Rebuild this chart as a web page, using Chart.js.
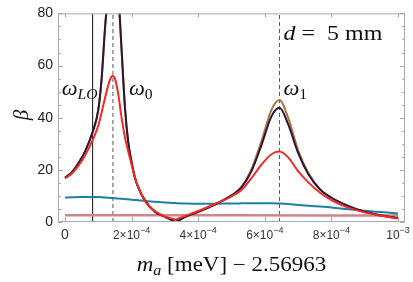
<!DOCTYPE html>
<html>
<head>
<meta charset="utf-8">
<script src="https://cdn.jsdelivr.net/npm/chart.js@4.4.1/dist/chart.umd.min.js"></script>
<style>
html,body{margin:0;padding:0;background:#fff;}
canvas{display:block;}
</style>
</head>
<body>
<canvas id="myChart" width="413" height="282"></canvas>
<script>

// m_a [meV] - 2.56963, in units of 1e-4
var xs = [0, 0.2, 0.4, 0.6, 0.83, 1.0, 1.1, 1.2, 1.3, 1.35, 1.42, 1.5, 1.6, 1.7, 1.8, 1.9, 2.0, 2.1, 2.2, 2.4, 2.7, 3.0, 3.27, 3.32, 3.37, 3.6, 4.0, 4.5, 5.0, 5.3, 5.6, 5.9, 6.2, 6.44, 6.7, 7.0, 7.3, 7.66, 8.0, 8.5, 9.0, 9.5, 10.0];

var purple = [17, 19, 22.5, 27, 34.5, 43, 55, 74, 90, 100, 106, 102, 88, 66, 44, 30.5, 23, 17, 13.3, 8.3, 3.9, 2.0, 0.35, 0.05, 0.3, 1.9, 3.9, 6.7, 10.2, 13.3, 19.5, 29.5, 40.5, 43.8, 37.5, 26.5, 18.5, 12.4, 9.3, 6.2, 3.9, 2.5, 1.5];
var brown  = [17, 19, 22.5, 27, 34.5, 43, 55, 74, 90, 100, 106, 102, 88, 66, 44, 30.5, 23, 17, 13.3, 8.3, 3.9, 2.0, 0.35, 0.05, 0.3, 1.9, 3.9, 6.7, 10.2, 13.5, 20.3, 31, 43, 46.8, 40, 27.5, 19, 12.6, 9.3, 6.2, 3.9, 2.5, 1.5];
var red    = [16.7, 18.5, 21.5, 25.5, 31.4, 37, 42, 47.5, 52.5, 54.5, 56, 55, 49, 40, 32.5, 27, 22, 17, 13.5, 8.0, 4.2, 2.1, 1.1, 1.0, 1.15, 2.3, 4.2, 6.9, 9.8, 12.3, 16.8, 22, 26, 27, 24.8, 19.5, 15.3, 11.2, 8.4, 5.5, 3.7, 2.4, 1.3];
var teal   = [9.4, 9.5, 9.55, 9.6, 9.6, 9.55, 9.5, 9.4, 9.3, 9.25, 9.2, 9.1, 9.0, 8.9, 8.8, 8.7, 8.55, 8.45, 8.35, 8.1, 7.8, 7.5, 7.3, 7.25, 7.2, 7.1, 7.0, 7.0, 7.1, 7.15, 7.2, 7.2, 7.2, 7.1, 6.9, 6.5, 6.2, 5.9, 5.6, 4.9, 4.3, 3.8, 3.3];

var xsFlat = [0, 5, 10];
var pink   = [2.6, 2.55, 2.45];

// resonance markers (units of 1e-4)
var wLO = 0.83, w0 = 1.44, w1 = 6.44;

var xTicks = [0, 2, 4, 6, 8, 10];
var yTicks = [0, 20, 40, 60, 80];

function pts(ys, xv){
	xv = xv || xs;
	return ys.map((y,i)=>({ x: xv[i], y: y }));
}
function vline(x){ return [ {x:x, y:0}, {x:x, y:80} ]; }

var serif = '"Liberation Serif", "DejaVu Serif", serif';
var sans  = '"Liberation Sans", Arial, sans-serif';

// frame, inside ticks, custom tick labels and math text
var decor = {
	id: 'decor',
	afterDraw(chart){
		var ctx = chart.ctx, a = chart.chartArea;
		var sx = chart.scales.x, sy = chart.scales.y;
		ctx.save();

		ctx.strokeStyle = '#ababab';
		ctx.lineWidth = 1;
		ctx.strokeRect(a.left + 0.5, a.top + 0.5, a.right - a.left - 1, a.bottom - a.top - 1);

		ctx.beginPath();
		for( var v = 0; v <= 80; v += 5 ){
			var py = Math.round( sy.getPixelForValue(v) ) + 0.5;
			var len = v % 20 == 0 ? 5 : 3;
			ctx.moveTo(a.left, py);  ctx.lineTo(a.left + len, py);
			ctx.moveTo(a.right, py); ctx.lineTo(a.right - len, py);
		}
		xTicks.forEach( t => {
			var px = Math.round( sx.getPixelForValue(t) ) + 0.5;
			ctx.moveTo(px, a.bottom); ctx.lineTo(px, a.bottom - 5);
			ctx.moveTo(px, a.top);    ctx.lineTo(px, a.top + 4);
		});
		ctx.stroke();

		// x tick labels
		ctx.fillStyle = '#333';
		ctx.textBaseline = 'alphabetic';
		ctx.textAlign = 'left';
		xTicks.forEach( t => {
			var px = sx.getPixelForValue(t);
			if( t == 0 ){
				ctx.font = '14px ' + sans;
				var w = ctx.measureText('0').width;
				ctx.fillText('0', px - w/2, 238.5);
				return;
			}
			var main = t == 10 ? '10' : (t + '\u00d710');
			var sup  = t == 10 ? '\u22123' : '\u22124';
			ctx.font = '12px ' + sans;
			var w1 = ctx.measureText(main).width;
			ctx.font = '9px ' + sans;
			var w2 = ctx.measureText(sup).width;
			var x0 = px - (w1 + w2)/2;
			ctx.font = '12px ' + sans;
			ctx.fillText(main, x0, 238.5);
			ctx.font = '9px ' + sans;
			ctx.fillText(sup, x0 + w1, 233);
		});

		// math text helper: pieces [text, style, size, dy]
		function mathText(pieces, x, y, stretch, center){
			ctx.save();
			ctx.fillStyle = '#111';
			ctx.translate(x, y);
			ctx.scale(stretch, 1);
			var total = 0;
			pieces.forEach( p => { ctx.font = p[1] + ' ' + p[2] + 'px ' + serif; total += ctx.measureText(p[0]).width; });
			var cx = center ? -total/2 : 0;
			pieces.forEach( p => {
				ctx.font = p[1] + ' ' + p[2] + 'px ' + serif;
				ctx.fillText(p[0], cx, p[3] || 0);
				cx += ctx.measureText(p[0]).width;
			});
			ctx.restore();
		}

		var pLO = sx.getPixelForValue(wLO), p0 = sx.getPixelForValue(w0), p1 = sx.getPixelForValue(w1);
		mathText([['\u03c9','italic',20,0],['LO','italic',14,4]], pLO - 31, 95, 1.12);
		mathText([['\u03c9','italic',20,0],['0','normal',14,4]], p0 + 16, 95, 1.12);
		mathText([['\u03c9','italic',20,0],['1','normal',14,4]], p1 + 4, 95, 1.12);
		mathText([['d','italic',20,0],[' =  5 mm','normal',20,0]], p1 + 4, 40, 1.2);

		// axis titles
		var cxa = (a.left + a.right)/2;
		mathText([['m','italic',20,0],['a','italic',14,4],[' [meV] \u2212 2.56963','normal',20,0]], cxa, 271, 1.15, true);

		ctx.save();
		ctx.translate(21, 115);
		ctx.rotate(-Math.PI/2);
		mathText([['\u03b2','italic',21,0]], 0, 7, 1, true);
		ctx.restore();

		ctx.restore();
	}
};

function curve(data, color, width, order){
	return { data: data, borderColor: color, borderWidth: width, pointRadius: 0, cubicInterpolationMode: 'monotone', fill: false, order: order };
}

new Chart("myChart", {
	type: "line",
	data: {
		datasets: [
			curve( pts(red),    "#f12a26", 2,   1 ),
			curve( pts(purple), "#2e1538", 2,   2 ),
			curve( pts(brown),  "#a8763c", 2,   3 ),
			curve( pts(teal),   "#1f7fa4", 2,   4 ),
			curve( pts(pink, xsFlat), "#cd858e", 2.5, 5 ),
			{ data: vline(wLO), borderColor: "#111", borderWidth: 1, pointRadius: 0, order: 6 },
			{ data: vline(w0),  borderColor: "#555", borderWidth: 1, borderDash: [4,3], pointRadius: 0, order: 6 },
			{ data: vline(w1),  borderColor: "#555", borderWidth: 1, borderDash: [4,3], pointRadius: 0, order: 6 },
		]
	},
	options: {
		responsive: false,
		animation: false,
		events: [],
		layout: { padding: { top: 9, right: 8, left: 0, bottom: 0 } },
		plugins: { legend: { display: false }, tooltip: { enabled: false } },
		scales: {
			x: {
				type: "linear", min: -0.21, max: 10.21,
				grid: { display: false, drawTicks: false },
				border: { display: false },
				ticks: { display: false },
				afterFit: s => { s.height = 60; }
			},
			y: {
				min: 0, max: 80,
				grid: { display: false, drawTicks: false },
				border: { display: false },
				afterBuildTicks: s => { s.ticks = yTicks.map( v => ({ value: v }) ); },
				ticks: { padding: 5, color: "#222", font: { family: sans, size: 14 } },
				afterFit: s => { s.width = 58; }
			}
		}
	},
	plugins: [decor]
});

</script>
</body>
</html>
